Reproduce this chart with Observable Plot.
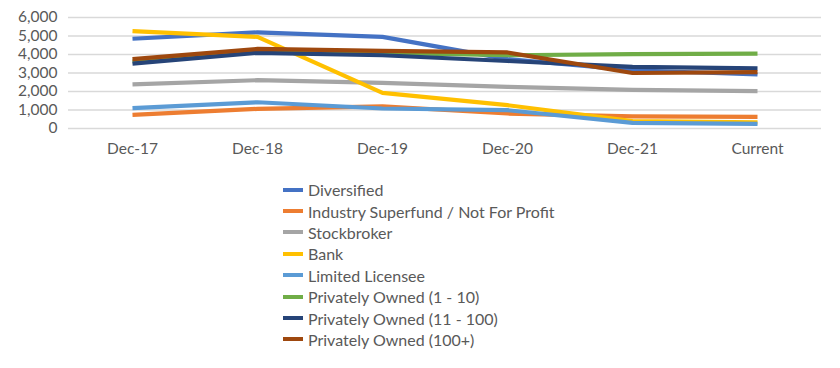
<!DOCTYPE html>
<html>
<head>
<meta charset="utf-8">
<script src="https://cdn.jsdelivr.net/npm/d3@7"></script>
<script src="https://cdn.jsdelivr.net/npm/@observablehq/plot@0.6"></script>
<style>
  html, body { margin: 0; padding: 0; background: #fff; }
  #wrap { position: relative; width: 840px; height: 368px; font-family: Lato, "Open Sans", sans-serif; }
  #legend { position: absolute; left: 283px; top: 179px; color: #595959; font-size: 16px; }
  .item { display: flex; align-items: center; height: 21.4px; white-space: nowrap; }
  .sw { width: 20px; height: 4px; margin-right: 5px; }
</style>
</head>
<body>
<div id="wrap"><div id="chart"></div><div id="legend"></div></div>
<script>
const categories = ["Dec-17", "Dec-18", "Dec-19", "Dec-20", "Dec-21", "Current"];
const seriesNames = [
  "Diversified",
  "Industry Superfund / Not For Profit",
  "Stockbroker",
  "Bank",
  "Limited Licensee",
  "Privately Owned (1 - 10)",
  "Privately Owned (11 - 100)",
  "Privately Owned (100+)"
];
const seriesColors = ["#4472C4", "#ED7D31", "#A5A5A5", "#FFC000", "#5B9BD5", "#70AD47", "#264478", "#9E480E"];
const diversified = [4850, 5200, 4950, 3750, 3150, 2920];
const industrySuperfund = [740, 1060, 1200, 810, 660, 630];
const stockbroker = [2380, 2610, 2470, 2250, 2090, 2020];
const bank = [5260, 4950, 1930, 1260, 400, 330];
const limitedLicensee = [1100, 1420, 1080, 990, 300, 250];
const privately1to10 = [3620, 4200, 4080, 3960, 4020, 4050];
const privately11to100 = [3510, 4090, 3960, 3650, 3330, 3250];
const privately100plus = [3750, 4300, 4200, 4110, 3000, 3050];
const yTicks = [0, 1000, 2000, 3000, 4000, 5000, 6000];

const seriesValues = [diversified, industrySuperfund, stockbroker, bank, limitedLicensee, privately1to10, privately11to100, privately100plus];
const rows = [];
seriesNames.forEach((s, i) => categories.forEach((c, j) => rows.push({series: s, cat: c, value: seriesValues[i][j]})));

const chart = Plot.plot({
  width: 840,
  height: 170,
  marginLeft: 68,
  marginRight: 19,
  marginTop: 17,
  marginBottom: 42,
  style: {fontFamily: "Lato, 'Open Sans', sans-serif", fontSize: "15px", color: "#595959", background: "#fff"},
  x: {type: "point", domain: categories, padding: 0.5, label: null},
  y: {domain: [0, 6000], label: null},
  color: {domain: seriesNames, range: seriesColors},
  marks: [
    Plot.gridY(yTicks, {stroke: "#d9d9d9", strokeOpacity: 1, strokeWidth: 1.5}),
    Plot.axisY(yTicks, {tickSize: 0, tickPadding: 11, tickFormat: d3.format(","), fontSize: 15.5, label: null}),
    Plot.axisX({tickSize: 0, tickPadding: 14, fontSize: 15.5, label: null}),
    ...seriesNames.map(s => Plot.line(rows.filter(r => r.series === s), {x: "cat", y: "value", stroke: "series", strokeWidth: 4.2, strokeLinejoin: "round", strokeLinecap: "butt"}))
  ]
});
document.getElementById("chart").appendChild(chart);

const legend = document.getElementById("legend");
seriesNames.forEach((s, i) => {
  const item = document.createElement("div");
  item.className = "item";
  const sw = document.createElement("div");
  sw.className = "sw";
  sw.style.background = seriesColors[i];
  const t = document.createElement("span");
  t.textContent = s;
  item.appendChild(sw);
  item.appendChild(t);
  legend.appendChild(item);
});
</script>
</body>
</html>
